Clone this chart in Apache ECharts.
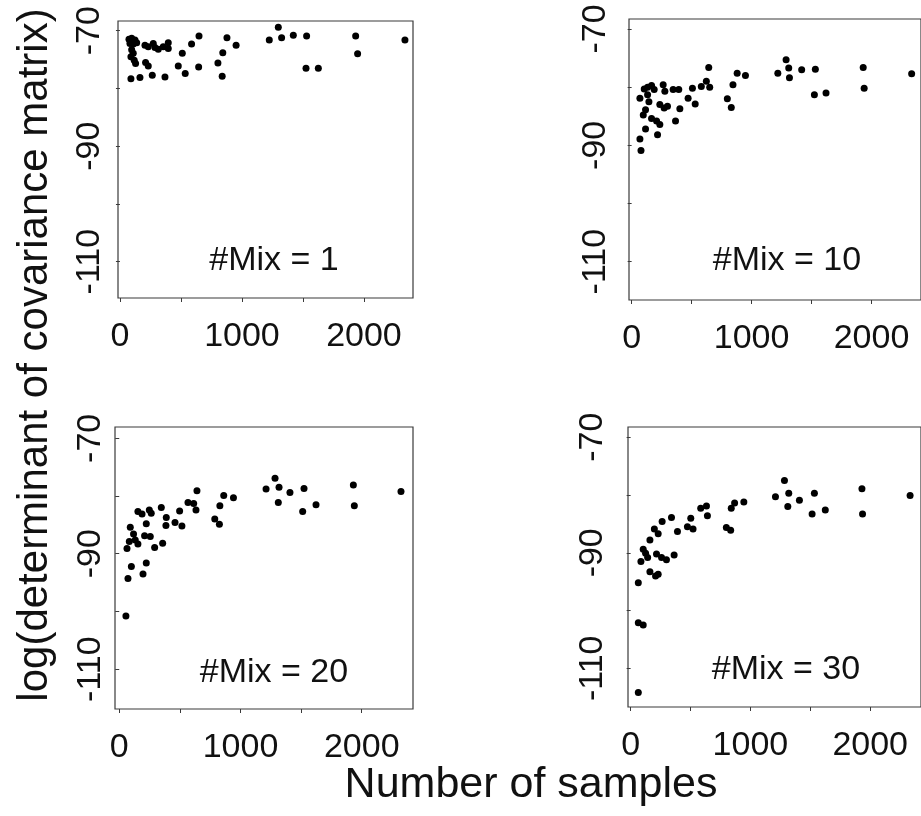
<!DOCTYPE html>
<html><head><meta charset="utf-8">
<script src="https://cdn.jsdelivr.net/npm/echarts@6/dist/echarts.min.js"></script>
<style>html,body{margin:0;padding:0;background:#fff}#c{width:921px;height:816px}</style>
</head><body><div id="c"></div>
<script>
// ---- data (x = number of samples, y = log determinant) ----
const mix1 = [[74,-71.5],[96,-71.3],[123,-71.6],[82,-72.2],[109,-72.3],[137,-72.1],[205,-72.5],[232,-72.8],[273,-72.2],[287,-72.9],[314,-73.2],[355,-72.8],[396,-72.1],[396,-73.1],[96,-73.3],[109,-73.9],[90,-74.5],[117,-75.1],[128,-75.7],[210,-75.5],[232,-76.1],[90,-78.3],[164,-78.1],[265,-77.7],[369,-78.0],[478,-76.1],[535,-77.4],[645,-76.3],[511,-73.9],[587,-72.3],[648,-70.9],[803,-75.6],[838,-77.9],[843,-73.8],[877,-71.2],[952,-72.5],[1224,-71.6],[1298,-69.4],[1325,-71.2],[1421,-70.8],[1530,-70.9],[1525,-76.5],[1626,-76.5],[1932,-70.9],[1948,-74.0],[2336,-71.6]];
const mix10 = [[78,-90.9],[69,-88.9],[116,-87.2],[97,-84.8],[116,-83.9],[166,-85.4],[216,-88.2],[235,-86.4],[208,-85.8],[69,-81.9],[105,-80.3],[133,-80.0],[166,-79.7],[188,-80.4],[133,-81.3],[144,-82.5],[263,-79.6],[277,-80.7],[235,-83.0],[271,-83.6],[299,-83.3],[346,-80.4],[393,-80.4],[366,-85.8],[402,-83.7],[471,-81.9],[530,-82.9],[507,-80.2],[581,-79.9],[623,-79.0],[651,-80.0],[643,-76.6],[798,-82.0],[831,-83.5],[845,-79.6],[880,-77.6],[949,-78.0],[1219,-77.6],[1288,-75.3],[1310,-76.7],[1316,-78.4],[1418,-77.0],[1532,-76.9],[1524,-81.3],[1621,-81.0],[1931,-76.6],[1939,-80.2],[2335,-77.7]];
const mix20 = [[55,-100.8],[72,-94.3],[100,-92.2],[196,-93.5],[223,-91.6],[64,-89.1],[91,-85.4],[118,-86.6],[83,-87.9],[132,-87.6],[154,-88.3],[209,-86.9],[256,-87.0],[223,-84.8],[154,-82.7],[188,-83.1],[248,-82.4],[264,-83.0],[347,-82.0],[292,-88.9],[358,-88.2],[388,-83.7],[385,-85.1],[460,-84.6],[517,-85.2],[498,-82.6],[567,-81.1],[614,-81.3],[633,-82.4],[641,-79.1],[788,-84.0],[826,-84.9],[830,-81.7],[862,-79.9],[942,-80.3],[1211,-78.8],[1285,-76.9],[1318,-78.5],[1312,-81.1],[1408,-79.4],[1524,-78.7],[1513,-82.7],[1623,-81.5],[1931,-78.1],[1939,-81.7],[2324,-79.2]];
const mix30 = [[64,-114.2],[64,-102.1],[105,-102.5],[64,-95.2],[86,-91.5],[105,-89.4],[125,-90.1],[142,-90.8],[161,-87.8],[161,-93.3],[208,-94.0],[230,-93.7],[216,-90.2],[258,-90.8],[299,-91.2],[363,-90.4],[198,-85.9],[230,-86.7],[263,-84.6],[341,-83.9],[391,-86.3],[474,-85.5],[521,-85.9],[502,-84.0],[585,-82.3],[633,-81.9],[641,-83.6],[799,-85.6],[835,-86.1],[840,-82.3],[868,-81.4],[945,-81.2],[1209,-80.3],[1284,-77.5],[1320,-79.7],[1312,-82.0],[1409,-80.9],[1534,-79.7],[1515,-83.3],[1625,-82.6],[1931,-78.9],[1936,-83.3],[2333,-80.1]];
const panelData = [mix1, mix10, mix20, mix30];
const panelLabels = ['#Mix = 1', '#Mix = 10', '#Mix = 20', '#Mix = 30'];
const xTickValues = [0, 500, 1000, 1500, 2000];
const xLabelValues = [0, 1000, 2000];
const yTickValues = [-110, -100, -90, -80, -70];
const yLabelValues = [-110, -90, -70];
const xTitle = 'Number of samples';
const yTitle = 'log(determinant of covariance matrix)';

// ---- layout (pixels) ----
const FONT = '"Liberation Sans", Arial, Helvetica, sans-serif';
const layout = [
  {left:118, top:21, width:295, height:277, xmin:-16, xmax:2402, ymin:-116.29, ymax:-68.32, ym:11, lx:274, ly:261},
  {left:629, top:19, width:293, height:281, xmin:-22, xmax:2413, ymin:-116.59, ymax:-68.28, ym:16, lx:787, ly:261},
  {left:115, top:427, width:298, height:282, xmin:-35, xmax:2423, ymin:-116.9, ymax:-68.04, ym:7, lx:274, ly:673},
  {left:628, top:427, width:294, height:280, xmin:-22, xmax:2424, ymin:-116.7, ymax:-68.22, ym:18, lx:786, ly:670}
];

const grids = [], xAxes = [], yAxes = [], series = [], graphics = [];
layout.forEach((L, i) => {
  grids.push({left:L.left, top:L.top, width:L.width, height:L.height, show:true,
    borderColor:'#3a3a3a', borderWidth:1.2, backgroundColor:'transparent'});
  xAxes.push({gridIndex:i, type:'value', min:L.xmin, max:L.xmax,
    axisLine:{show:false}, splitLine:{show:false},
    axisTick:{show:true, length:4, customValues:xTickValues, lineStyle:{color:'#3a3a3a', width:1}},
    axisLabel:{customValues:xLabelValues, formatter:v => String(v), fontSize:34, margin:22, color:'#111', fontFamily:FONT}});
  yAxes.push({gridIndex:i, type:'value', min:L.ymin, max:L.ymax,
    axisLine:{show:false}, splitLine:{show:false},
    axisTick:{show:true, length:4, customValues:yTickValues, lineStyle:{color:'#3a3a3a', width:1}},
    axisLabel:{customValues:yLabelValues, formatter:v => String(v), rotate:90, fontSize:34, margin:L.ym, color:'#111', fontFamily:FONT}});
  series.push({type:'scatter', xAxisIndex:i, yAxisIndex:i, data:panelData[i],
    symbol:'circle', symbolSize:7, itemStyle:{color:'#000', opacity:1}, silent:true, animation:false});
  graphics.push({type:'text', x:L.lx, y:L.ly,
    style:{text:panelLabels[i], font:'34px ' + FONT, fill:'#111', align:'center', verticalAlign:'middle'}});
});
graphics.push({type:'text', x:35, y:355, rotation:Math.PI/2,
  style:{text:yTitle, font:'42px ' + FONT, fill:'#111', align:'center', verticalAlign:'middle'}});
graphics.push({type:'text', x:531, y:785,
  style:{text:xTitle, font:'43px ' + FONT, fill:'#111', align:'center', verticalAlign:'middle'}});

const chart = echarts.init(document.getElementById('c'), null, {renderer:'canvas'});
chart.setOption({animation:false, backgroundColor:'#fff', grid:grids, xAxis:xAxes, yAxis:yAxes, series:series, graphic:graphics});
</script></body></html>
